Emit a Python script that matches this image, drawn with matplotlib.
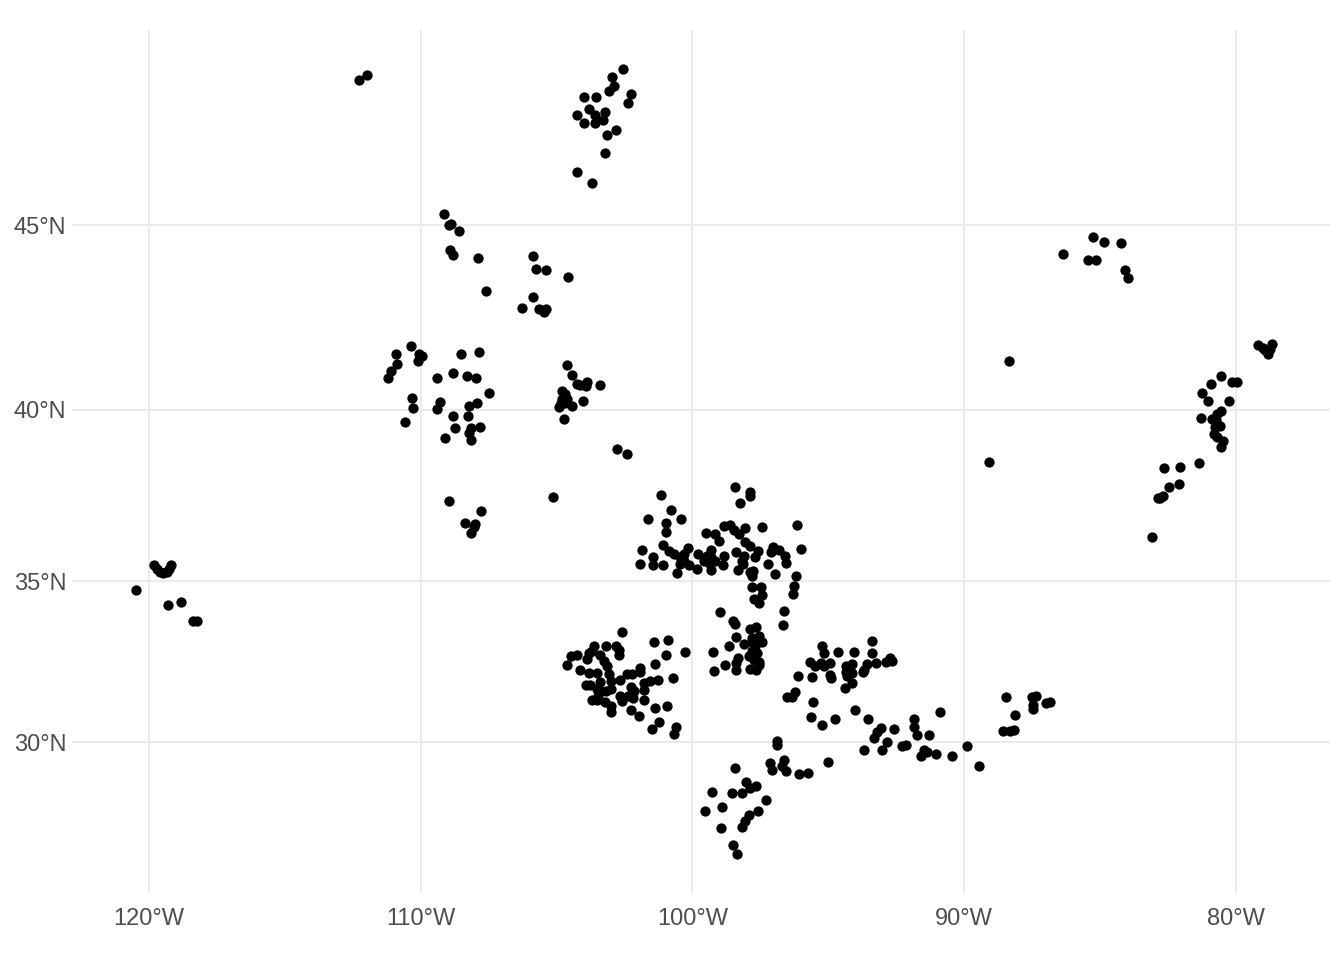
import numpy as np
import matplotlib
matplotlib.use("Agg")
import matplotlib.pyplot as plt

# lon, lat, one list per cluster
california = [(-119.82,35.49),(-119.72,35.37),(-119.6,35.27),(-119.47,35.24),(-119.35,35.27),(-119.25,35.37),
    (-119.17,35.47),(-120.48,34.72),(-119.3,34.29),(-118.82,34.38),(-118.37,33.79),(-118.23,33.79)]
montana = [(-112.27,48.65),(-111.99,48.77)]
north_dakota = [(-102.54,48.92),(-102.94,48.72),(-102.89,48.52),(-103.05,48.39),(-102.24,48.32),(-102.35,48.09),
    (-103.97,48.24),(-103.53,48.24),(-103.79,47.94),(-103.2,47.87),(-104.26,47.79),(-103.57,47.79),(-103.27,47.68),
    (-104.0,47.59),(-103.57,47.61),(-102.79,47.43),(-103.13,47.31),(-103.2,46.86),(-104.26,46.38),(-103.68,46.10)]
wyoming = [(-109.13,45.28),(-108.87,45.03),(-108.94,45.0),(-108.57,44.84),(-108.9,44.35),(-108.79,44.21),(-107.9,44.13),
    (-107.61,43.26),(-105.85,44.19),(-105.77,43.86),(-105.37,43.82),(-104.56,43.64),(-105.85,43.09),(-106.25,42.81),
    (-105.63,42.77),(-105.47,42.70),(-105.37,42.77)]
rockies = [(-110.36,41.76),(-110.92,41.54),(-110.88,41.28),(-111.08,41.07),(-111.19,40.90),(-110.06,41.54),(-109.94,41.50),
    (-110.11,41.37),(-108.53,41.56),(-107.84,41.61),(-108.79,41.04),(-109.41,40.90),(-108.31,40.94),(-107.97,40.90),
    (-107.5,40.47),(-110.33,40.34),(-110.29,40.05),(-110.59,39.66),(-109.3,40.21),(-109.41,40.02),(-107.94,40.19),
    (-108.21,40.10),(-108.25,39.83),(-108.82,39.83),(-108.75,39.48),(-109.12,39.19),(-107.83,39.51),(-108.13,39.48),
    (-108.22,39.33),(-108.13,39.13),(-108.94,37.38),(-107.79,37.09),(-108.38,36.72),(-107.98,36.69),(-108.03,36.61),
    (-108.14,36.45)]
denver = [(-104.6,41.26),(-104.42,40.96),(-104.24,40.72),(-104.14,40.68),(-103.86,40.79),(-103.9,40.66),(-103.38,40.69),
    (-104.79,40.53),(-104.68,40.43),(-104.8,40.29),(-104.61,40.29),(-104.85,40.2),(-104.69,40.2),(-104.9,40.07),
    (-104.41,40.11),(-104.01,40.25),(-104.71,39.75),(-105.11,37.51),(-102.76,38.87),(-102.41,38.75)]
michigan = [(-85.24,44.70),(-84.83,44.57),(-84.21,44.54),(-86.36,44.26),(-85.42,44.10),(-85.13,44.08),(-84.06,43.82),
    (-83.98,43.61),(-88.34,41.37),(-89.08,38.52)]
appalachia = [(-79.18,41.79),(-79.01,41.72),(-78.93,41.66),(-78.83,41.56),(-78.75,41.70),(-78.66,41.82),(-80.55,40.94),
    (-80.92,40.72),(-80.12,40.79),(-79.95,40.79),(-81.25,40.46),(-81.03,40.25),(-80.26,40.25),(-81.29,39.77),(-80.54,39.97),
    (-80.69,39.88),(-80.89,39.74),(-80.71,39.70),(-80.59,39.53),(-80.76,39.51),(-80.81,39.31),(-80.68,39.22),(-80.47,39.12),
    (-80.56,38.95),(-81.34,38.47),(-82.63,38.35),(-82.04,38.38),(-82.1,37.88),(-82.44,37.8),(-82.66,37.52),(-82.87,37.48),
    (-82.77,37.48),(-83.08,36.31)]
oklahoma = [(-98.42,37.80),(-97.87,37.65),(-97.87,37.53),(-98.24,37.33),(-101.14,37.54),(-100.77,37.13),(-101.62,36.86),
    (-100.40,36.86),(-100.96,36.72),(-100.96,36.48),(-98.82,36.63),(-98.63,36.68),(-98.48,36.53),(-98.27,36.40),(-98.05,36.58),
    (-97.44,36.61),(-96.14,36.67),(-99.50,36.43),(-99.15,36.40),(-99.01,36.19),(-98.05,36.17),(-97.89,36.04),(-95.99,35.96),
    (-97.03,36.02),(-97.11,35.87),(-96.81,35.94),(-96.58,35.76),(-96.54,35.55),(-101.07,36.08),(-101.84,35.93),(-100.87,35.90),
    (-100.69,35.82),(-100.16,35.99),(-99.78,35.81),(-99.30,35.93),(-98.38,35.88),(-97.60,35.90),(-97.68,35.73),(-98.11,35.76),
    (-98.17,35.61),(-101.43,35.71),(-101.91,35.52),(-101.44,35.49),(-101.07,35.49),(-100.44,35.71),(-100.29,35.61),(-100.44,35.51),
    (-100.14,35.47),(-99.83,35.37),(-100.55,35.23),(-99.46,35.76),(-99.56,35.59),(-99.30,35.73),(-99.15,35.59),(-98.85,35.74),
    (-98.87,35.49),(-99.30,35.34),(-99.34,35.51),(-98.32,35.32),(-98.14,35.51),(-97.21,35.50),(-96.95,35.20),(-96.18,35.15),
    (-97.77,35.30),(-97.89,35.27),(-97.81,35.15),(-97.81,34.82),(-97.46,34.82),(-97.44,34.57),(-97.72,34.47),(-97.55,34.34),
    (-96.24,34.85),(-96.28,34.60),(-96.62,34.08),(-98.97,34.05),(-98.50,33.80),(-100.32,35.81),(-99.30,35.65)]
permian = [(-102.57,33.45),(-101.40,33.15),(-100.89,33.21),(-100.26,32.84),(-100.96,32.74),(-101.36,32.46),(-100.70,32.03),
    (-101.26,31.97),(-101.54,31.93),(-101.79,31.87),(-101.91,32.34),(-101.94,32.21),(-102.22,32.16),(-102.40,32.15),(-102.65,31.97),
    (-103.60,33.02),(-103.17,33.03),(-102.81,33.03),(-102.71,32.89),(-102.68,32.73),(-104.24,32.75),(-104.46,32.70),(-104.61,32.43),
    (-103.81,32.80),(-103.69,32.86),(-103.87,32.63),(-103.38,32.75),(-103.26,32.57),(-103.14,32.39),(-104.12,32.28),(-103.81,32.17),
    (-103.50,32.20),(-103.08,32.15),(-103.01,31.93),(-103.01,31.70),(-103.38,31.90),(-103.91,31.80),(-103.75,31.82),(-103.50,31.70),
    (-103.47,31.46),(-103.69,31.34),(-103.50,31.34),(-103.20,31.28),(-103.01,31.15),(-102.98,30.96),(-102.67,31.46),(-102.58,31.30),
    (-102.38,31.46),(-102.24,31.74),(-102.16,31.61),(-102.18,31.41),(-101.79,31.33),(-101.79,31.64),(-102.24,31.03),(-101.96,30.84),
    (-101.36,31.10),(-100.93,31.15),(-101.22,30.66),(-101.47,30.43),(-100.59,30.50),(-100.66,30.28),(-103.38,31.62),(-103.16,31.62)]
central_texas = [(-96.67,33.66),(-98.44,33.70),(-97.65,33.62),(-97.89,33.53),(-98.39,33.30),(-97.56,33.32),(-97.81,33.27),(-97.44,33.14),
    (-98.11,33.08),(-98.64,33.03),(-97.68,33.01),(-99.24,32.83),(-97.93,32.72),(-97.62,32.79),(-98.30,32.65),(-98.79,32.44),(-98.38,32.49),
    (-97.56,32.52),(-99.19,32.24),(-98.38,32.27),(-97.89,32.31),(-97.66,32.29),(-97.56,32.44),(-97.79,32.86),(-97.76,33.12),(-97.72,32.60)]
east_texas = [(-96.11,32.09),(-95.59,32.06),(-95.22,33.03),(-95.15,32.79),(-94.63,32.83),(-94.04,32.83),(-93.39,33.17),(-93.37,32.79),
    (-92.72,32.65),(-92.66,32.57),(-92.86,32.52),(-93.25,32.49),(-93.56,32.47),(-93.68,32.29),(-93.71,32.21),(-95.67,32.52),(-95.48,32.39),
    (-95.27,32.49),(-95.15,32.39),(-94.93,32.49),(-94.94,32.13),(-94.88,32.03),(-94.35,32.41),(-94.11,32.47),(-94.35,32.21),(-94.11,32.18),
    (-94.29,32.08),(-94.13,31.87),(-94.39,31.71),(-96.21,31.59),(-96.33,31.43),(-96.50,31.43),(-95.55,31.28),(-95.63,30.81),(-95.22,30.56),
    (-94.75,30.74),(-94.01,31.02),(-93.53,30.74),(-93.06,30.47),(-93.19,30.34),(-93.33,30.15),(-92.83,30.00),(-93.00,29.76),(-93.68,29.77),
    (-92.58,30.44),(-92.29,29.88),(-92.14,29.90),(-91.84,30.75),(-91.84,30.50),(-91.73,30.22),(-91.29,30.22),(-90.88,30.97),(-91.47,29.74),
    (-91.59,29.55),(-91.35,29.68),(-91.02,29.62),(-90.44,29.55),(-89.89,29.87),(-89.45,29.23),(-95.0,29.36)]
gulf_coast = [(-96.90,30.05),(-96.88,29.93),(-97.14,29.33),(-97.06,29.12),(-96.62,29.45),(-96.70,29.25),(-96.54,29.09),(-96.08,28.99),
    (-95.76,29.03),(-98.42,29.19),(-98.01,28.74),(-97.65,28.60),(-97.87,28.55),(-98.53,28.38),(-98.17,28.38),(-99.26,28.41),(-98.90,27.92),
    (-99.52,27.79),(-97.28,28.15),(-97.57,27.79),(-97.90,27.67),(-98.05,27.47),(-98.17,27.27),(-98.93,27.24),(-98.49,26.66),(-98.35,26.39)]
alabama = [(-88.46,31.43),(-88.57,30.37),(-88.31,30.37),(-88.16,30.40),(-88.12,30.87),(-87.50,31.43),(-87.35,31.46),(-87.46,31.18),
    (-87.46,31.06),(-86.99,31.25),(-86.84,31.28)]

lon_ticks = [-120, -110, -100, -90, -80]
lat_ticks = [30, 35, 40, 45]
lon_labels = ["120°W", "110°W", "100°W", "90°W", "80°W"]
lat_labels = ["30°N", "35°N", "40°N", "45°N"]

clusters = [california, montana, north_dakota, wyoming, rockies, denver, michigan, appalachia,
            oklahoma, permian, central_texas, east_texas, gulf_coast, alabama]
points = np.array([p for c in clusters for p in c])


# web mercator y
def merc(lat):
    return np.degrees(np.log(np.tan(np.pi / 4 + np.radians(lat) / 2)))


def merc_inv(y):
    return np.degrees(2 * np.arctan(np.exp(np.radians(y)))) - 90


plt.rcParams['font.family'] = ['Liberation Sans', 'DejaVu Sans']

fig = plt.figure(figsize=(13.44, 9.6), dpi=100)
ax = fig.add_axes([72 / 1344, 1 - 893 / 960, 1258 / 1344, 863 / 960])
ax.set_yscale('function', functions=(merc, merc_inv))
ax.set_xlim(-122.83, -76.53)
ax.set_ylim(25.087, 49.856)

ax.scatter(points[:, 0], points[:, 1], s=55, c='black', linewidths=0, zorder=3)

ax.set_xticks(lon_ticks, lon_labels)
ax.set_yticks(lat_ticks, lat_labels)
ax.minorticks_off()
ax.grid(True, color='#EBEBEB', linewidth=1.4)
ax.set_axisbelow(True)
ax.tick_params(length=0, labelsize=17, labelcolor='#4D4D4D')
ax.tick_params(axis='x', pad=11)
ax.tick_params(axis='y', pad=4)
for s in ax.spines.values():
    s.set_visible(False)

fig.savefig('out.png', dpi=100)
